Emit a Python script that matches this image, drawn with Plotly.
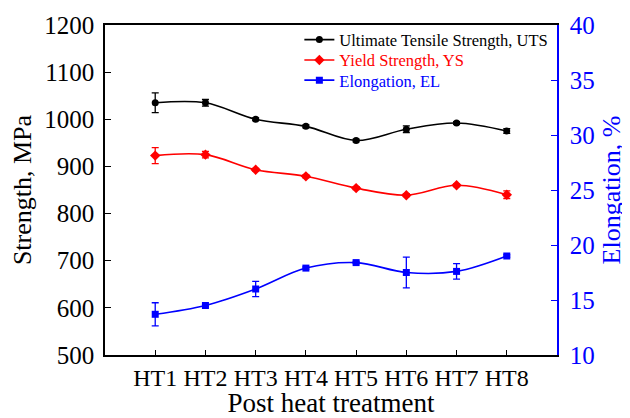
import plotly.graph_objects as go

categories = ["HT1", "HT2", "HT3", "HT4", "HT5", "HT6", "HT7", "HT8"]
uts = [1035, 1035, 1000, 985, 955, 979, 992, 975]
uts_err = [21, 7, 3, 3, 3, 7, 3, 5]
ys = [923, 925, 893, 879, 854, 839, 860, 840]
ys_err = [17, 7, 3, 3, 3, 3, 3, 8]
el = [13.7, 14.5, 16.0, 17.9, 18.4, 17.5, 17.6, 19.0]
el_err = [1.05, 0.1, 0.7, 0.1, 0.1, 1.4, 0.7, 0.1]

FONT = "Liberation Serif, Times New Roman, serif"

fig = go.Figure()
fig.add_trace(go.Scatter(
    x=categories, y=uts, name="Ultimate Tensile Strength, UTS", legend="legend",
    mode="lines+markers", line=dict(color="black", width=1.6, shape="spline", smoothing=1.0),
    marker=dict(symbol="circle", size=7, color="black"),
    error_y=dict(type="data", array=uts_err, color="black", thickness=1.3, width=3.5),
))
fig.add_trace(go.Scatter(
    x=categories, y=ys, name="Yield Strength, YS", legend="legend2",
    mode="lines+markers", line=dict(color="red", width=1.6, shape="spline", smoothing=1.0),
    marker=dict(symbol="diamond", size=8, color="red"),
    error_y=dict(type="data", array=ys_err, color="red", thickness=1.3, width=3.5),
))
fig.add_trace(go.Scatter(
    x=categories, y=el, name="Elongation, EL", yaxis="y2", legend="legend3",
    mode="lines+markers", line=dict(color="blue", width=1.6, shape="spline", smoothing=1.0),
    marker=dict(symbol="square", size=7, color="blue"),
    error_y=dict(type="data", array=el_err, color="blue", thickness=1.3, width=3.5),
))

def leg(ypos, color):
    return dict(
        x=0.43, y=ypos, xanchor="left", yanchor="middle",
        bgcolor="rgba(0,0,0,0)", borderwidth=0,
        font=dict(family=FONT, size=16.5, color=color),
    )

fig.update_layout(
    width=622, height=410,
    margin=dict(l=97, r=73, t=17, b=63),
    paper_bgcolor="white", plot_bgcolor="white",
    font=dict(family=FONT, color="black"),
    showlegend=True,
    legend=leg(0.955, "black"),
    legend2=leg(0.893, "red"),
    legend3=leg(0.832, "blue"),
    xaxis=dict(
        type="category", range=[-1, 8], automargin=False,
        showline=True, linecolor="black", linewidth=1.5, mirror=True,
        ticks="inside", ticklen=5, tickcolor="black", tickwidth=1,
        tickfont=dict(family=FONT, size=24, color="black"),
        title=dict(text="Post heat treatment", font=dict(family=FONT, size=27, color="black"), standoff=0),
        showgrid=False, zeroline=False,
    ),
    yaxis=dict(
        range=[500, 1200], dtick=100, automargin=False,
        showline=True, linecolor="black", linewidth=1.5,
        ticks="inside", ticklen=6, tickcolor="black", tickwidth=1,
        ticklabelstandoff=4,
        tickfont=dict(family=FONT, size=25, color="black"),
        title=dict(text="Strength, MPa", font=dict(family=FONT, size=26, color="black"), standoff=8),
        showgrid=False, zeroline=False,
    ),
    yaxis2=dict(
        overlaying="y", side="right", range=[10, 40], dtick=5, automargin=False,
        showline=True, linecolor="blue", linewidth=1.5,
        ticks="inside", ticklen=6, tickcolor="blue", tickwidth=1,
        ticklabelstandoff=6,
        tickfont=dict(family=FONT, size=25, color="blue"),
        title=dict(text="Elongation, %", font=dict(family=FONT, size=26, color="blue"), standoff=8),
        showgrid=False, zeroline=False,
    ),
)

fig.write_html("out.html")
